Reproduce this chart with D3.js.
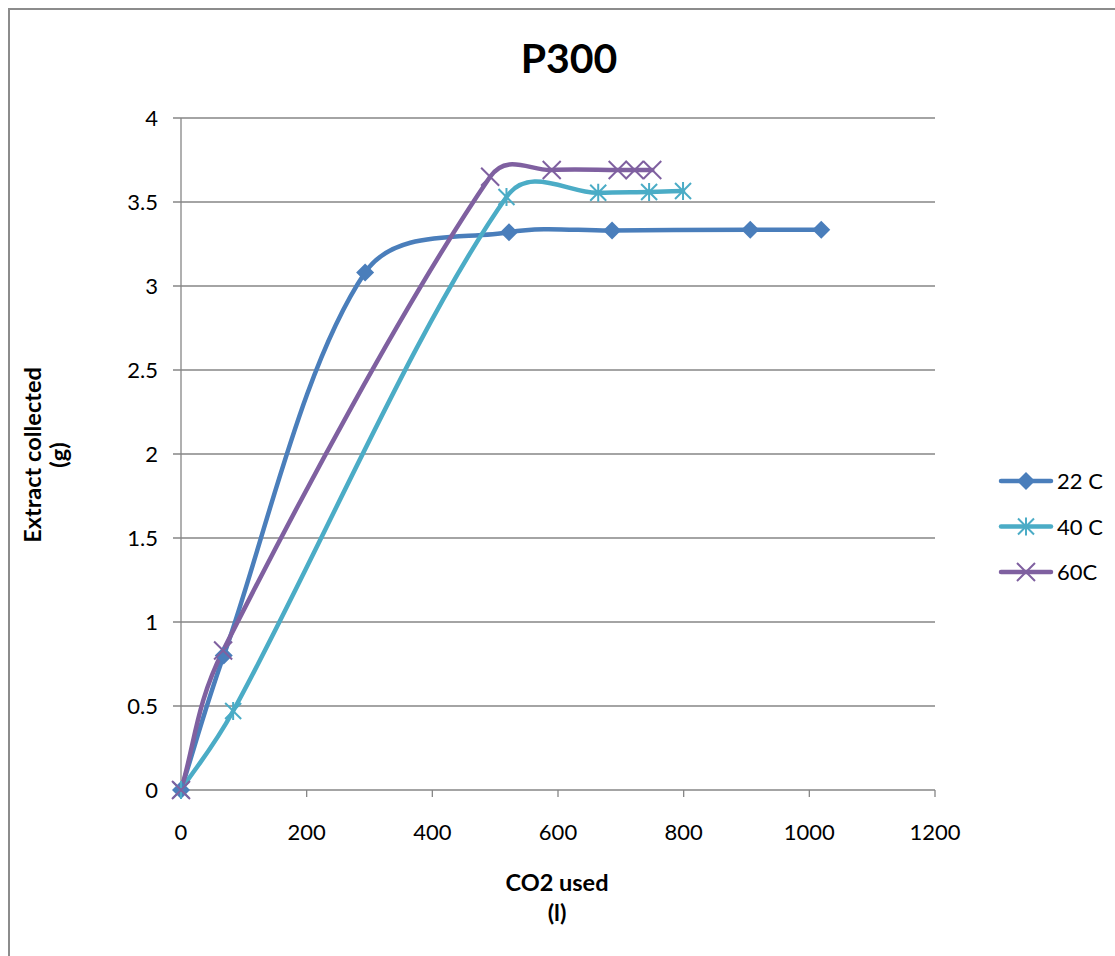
<!DOCTYPE html>
<html><head><meta charset="utf-8">
<script src="https://cdn.jsdelivr.net/npm/d3@7"></script>
<style>body{margin:0;background:#fff}svg{display:block;font-family:Lato,"Open Sans",sans-serif}</style>
</head><body><svg id="c" width="1115" height="956"></svg>
<script>
const xTicks = [0,200,400,600,800,1000,1200];
const yTicks = [0,0.5,1,1.5,2,2.5,3,3.5,4];
const yTickLabels = ["0","0.5","1","1.5","2","2.5","3","3.5","4"];
const seriesNames = ["22 C","40 C","60C"];
const x22 = [0,68,293,522,686,906,1019];
const y22 = [0,0.80,3.08,3.32,3.33,3.335,3.335];
const x40 = [0,83,518,664,745,799];
const y40 = [0,0.47,3.53,3.555,3.56,3.565];
const x60 = [0,67,492,590,695,722,750];
const y60 = [0,0.83,3.65,3.69,3.69,3.69,3.69];
const colors = ["#4A7EBB","#4BACC6","#7F60A0"];
const markers = ["diamond","star","x"];

const svg = d3.select("#c");
svg.append("rect").attr("x",9).attr("y",9).attr("width",1200).attr("height",1000)
  .attr("fill","#fff").attr("stroke","#8c8c8c").attr("stroke-width",2);

const x = d3.scaleLinear().domain([0,1200]).range([181,935]);
const y = d3.scaleLinear().domain([0,4]).range([790,118]);

svg.append("g").selectAll("line").data(yTicks).join("line")
  .attr("x1",173).attr("x2",935).attr("y1",d=>y(d)).attr("y2",d=>y(d))
  .attr("stroke","#868686").attr("stroke-width",1.3);
svg.append("line").attr("x1",181).attr("x2",181).attr("y1",118).attr("y2",790).attr("stroke","#868686").attr("stroke-width",1.3);
svg.append("g").selectAll("line").data(xTicks).join("line")
  .attr("x1",d=>x(d)).attr("x2",d=>x(d)).attr("y1",790).attr("y2",797)
  .attr("stroke","#868686").attr("stroke-width",1.3);
svg.append("g").selectAll("text").data(yTicks).join("text")
  .attr("x",158).attr("y",d=>y(d)+8).attr("text-anchor","end").attr("font-size",22)
  .text((d,i)=>yTickLabels[i]);
svg.append("g").selectAll("text").data(xTicks).join("text")
  .attr("x",d=>x(d)).attr("y",840).attr("text-anchor","middle").attr("font-size",22)
  .text(d=>d);

svg.append("text").attr("x",569).attr("y",73).attr("text-anchor","middle").attr("font-size",41).attr("font-weight","bold").text("P300");
svg.append("text").attr("x",557).attr("y",891).attr("text-anchor","middle").attr("font-size",23.5).attr("font-weight","bold").text("CO2 used");
svg.append("text").attr("x",557).attr("y",921).attr("text-anchor","middle").attr("font-size",23.5).attr("font-weight","bold").text("(l)");
const yt = svg.append("g").attr("transform","translate(0,455) rotate(-90)");
yt.append("text").attr("x",0).attr("y",41).attr("text-anchor","middle").attr("font-size",23.5).attr("font-weight","bold").text("Extract collected");
yt.append("text").attr("x",0).attr("y",67).attr("text-anchor","middle").attr("font-size",23.5).attr("font-weight","bold").text("(g)");

function marker(g, type, cx, cy, color){
  if(type==="diamond"){
    g.append("path").attr("d",`M${cx},${cy-9}L${cx+9},${cy}L${cx},${cy+9}L${cx-9},${cy}Z`).attr("fill",color);
  } else if(type==="star"){
    const r=8;
    g.append("path").attr("d",`M${cx-r},${cy-r}L${cx+r},${cy+r}M${cx-r},${cy+r}L${cx+r},${cy-r}M${cx},${cy-r-1}L${cx},${cy+r+1}`)
      .attr("stroke",color).attr("stroke-width",2).attr("fill","none");
  } else {
    const r=9;
    g.append("path").attr("d",`M${cx-r},${cy-r}L${cx+r},${cy+r}M${cx-r},${cy+r}L${cx+r},${cy-r}`)
      .attr("stroke",color).attr("stroke-width",2).attr("fill","none");
  }
}

// Excel-like smoothed line: Bezier with tangents weighted by adjacent chord lengths
function smoothPath(pts){
  const p = d3.path();
  const n = pts.length;
  const d = [];
  for(let i=0;i<n-1;i++) d.push(Math.hypot(pts[i+1][0]-pts[i][0], pts[i+1][1]-pts[i][1]));
  const T = pts.map((pt,i)=>{
    const a = pts[Math.max(0,i-1)], b = pts[Math.min(n-1,i+1)];
    return [b[0]-a[0], b[1]-a[1]];
  });
  const wf = r => Math.pow(r,0.75)/6;
  p.moveTo(pts[0][0], pts[0][1]);
  for(let i=0;i<n-1;i++){
    const dPrev = i>0 ? d[i-1] : d[i];
    const dNext = i<n-2 ? d[i+1] : d[i];
    const w1 = wf(2*d[i]/(dPrev+d[i]));
    const w2 = wf(2*d[i]/(d[i]+dNext));
    const s1 = i===0 ? 1/3 : w1, s2 = i===n-2 ? 1/3 : w2;
    const c1 = [pts[i][0]+T[i][0]*s1, pts[i][1]+T[i][1]*s1];
    const c2 = [pts[i+1][0]-T[i+1][0]*s2, pts[i+1][1]-T[i+1][1]*s2];
    p.bezierCurveTo(c1[0],c1[1],c2[0],c2[1],pts[i+1][0],pts[i+1][1]);
  }
  return p.toString();
}

const allX=[x22,x40,x60], allY=[y22,y40,y60];
allX.forEach((xs,i)=>{
  const pts = xs.map((v,j)=>[x(v),y(allY[i][j])]);
  svg.append("path").attr("d",smoothPath(pts)).attr("fill","none").attr("stroke",colors[i]).attr("stroke-width",4.5).attr("stroke-linecap","round");
});
allX.forEach((xs,i)=>{
  const g=svg.append("g");
  xs.forEach((v,j)=>marker(g,markers[i],x(v),y(allY[i][j]),colors[i]));
});

seriesNames.forEach((n,i)=>{
  const ly=481+i*45.5;
  svg.append("line").attr("x1",1001).attr("x2",1051).attr("y1",ly).attr("y2",ly).attr("stroke",colors[i]).attr("stroke-width",4.5).attr("stroke-linecap","round");
  const g=svg.append("g");
  marker(g,markers[i],1026,ly,colors[i]);
  svg.append("text").attr("x",1057).attr("y",ly+8).attr("font-size",22).text(n);
});
</script></body></html>
